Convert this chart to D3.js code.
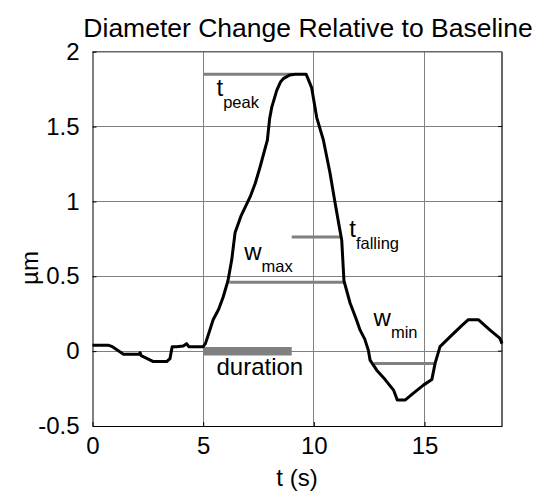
<!DOCTYPE html>
<html><head><meta charset="utf-8">
<script src="https://cdn.jsdelivr.net/npm/d3@7"></script>
<style>
body{margin:0;background:#fff;}
text{font-family:"Liberation Sans",Arial,sans-serif;fill:#000;}
</style></head>
<body>
<svg id="chart" width="538" height="495"></svg>
<script>
const tValues = [0,0.7,0.9,1.4,2.1,2.15,2.2,2.75,3.35,3.5,3.6,3.8,4.1,4.25,4.35,4.6,5.0,5.1,5.2,5.45,5.7,5.9,6.12,6.29,6.44,6.7,7.12,7.35,7.57,7.9,8.0,8.1,8.32,8.5,8.62,8.92,9.15,9.65,9.9,10.13,10.43,10.73,10.96,11.15,11.26,11.36,11.64,11.9,12.09,12.3,12.46,12.54,12.84,13.22,13.6,13.77,14.12,14.5,14.95,15.33,15.48,15.7,16.15,16.68,16.98,17.43,17.96,18.41,18.5];
const diameterValues = [0.04,0.04,0.03,-0.02,-0.02,-0.01,-0.03,-0.07,-0.07,-0.05,0.03,0.03,0.035,0.05,0.03,0.03,0.03,0.05,0.095,0.21,0.28,0.36,0.47,0.61,0.79,0.9,1.03,1.12,1.23,1.41,1.55,1.63,1.74,1.8,1.82,1.845,1.85,1.85,1.76,1.56,1.41,1.19,0.99,0.83,0.74,0.47,0.32,0.22,0.14,0.08,0.007,-0.06,-0.127,-0.19,-0.26,-0.327,-0.327,-0.28,-0.227,-0.19,-0.08,0.03,0.095,0.17,0.21,0.21,0.14,0.085,0.05];
const xTicks = [0,5,10,15];
const yTicks = [-0.5,0,0.5,1,1.5,2];
const yTickLabels = ["-0.5","0","0.5","1","1.5","2"];
// annotation segments
const segNames = ["tpeak","tfalling","wmax","duration","wmin"];
const segStart = [5.0, 9.0, 6.18, 5.0, 12.72];
const segEnd   = [9.05, 11.18, 11.36, 9.0, 15.5];
const segLevel = [1.85, 0.762, 0.46, 0.0, -0.082];
// annotation labels: main letter, subscript, anchor (t, value)
const labelMain = ["t","t","w","w","duration"];
const labelSub  = ["peak","falling","max","min",""];
const labelT    = [5.6, 11.6, 6.85, 12.7, 5.6];
const labelY    = [1.705, 0.765, 0.61, 0.165, -0.16];

const svg = d3.select("#chart");
const L=92.5, R=502, T=51.7, B=426;
const x = d3.scaleLinear().domain([0,18.5]).range([L,R]);
const y = d3.scaleLinear().domain([-0.5,2]).range([B,T]);
const grey = "#808080";
const FS = 24;

// grid
svg.append("g").selectAll("line").data(xTicks.filter(d=>d>0)).join("line")
  .attr("x1",d=>x(d)).attr("x2",d=>x(d)).attr("y1",T).attr("y2",B)
  .attr("stroke",grey).attr("stroke-width",1).attr("shape-rendering","crispEdges");
svg.append("g").selectAll("line").data(yTicks.filter(d=>d>-0.5 && d<2)).join("line")
  .attr("x1",L).attr("x2",R).attr("y1",d=>y(d)).attr("y2",d=>y(d))
  .attr("stroke",grey).attr("stroke-width",1).attr("shape-rendering","crispEdges");

// top/right border
svg.append("line").attr("x1",L).attr("x2",R).attr("y1",T).attr("y2",T).attr("stroke","#666").attr("stroke-width",1.5);
svg.append("line").attr("x1",R).attr("x2",R).attr("y1",T).attr("y2",B).attr("stroke","#666").attr("stroke-width",2);

// axes
const xAxis = d3.axisBottom(x).tickValues(xTicks).tickSizeInner(-4).tickSizeOuter(0).tickPadding(11).tickFormat(d3.format("d"));
const gx = svg.append("g").attr("transform",`translate(0,${B})`).call(xAxis);
gx.select(".domain").attr("stroke","#000").attr("stroke-width",1);
gx.selectAll("text").attr("font-size",FS).attr("font-family","Liberation Sans, Arial, sans-serif");
const yAxis = d3.axisLeft(y).tickValues(yTicks).tickSizeInner(-4).tickSizeOuter(0).tickPadding(13).tickFormat((d,i)=>yTickLabels[i]);
const gy = svg.append("g").attr("transform",`translate(${L},0)`).call(yAxis);
gy.select(".domain").attr("stroke","#000").attr("stroke-width",1);
gy.selectAll("text").attr("font-size",FS).attr("font-family","Liberation Sans, Arial, sans-serif");
gy.selectAll(".tick line, .domain").attr("stroke","#000");
// right ticks
svg.append("g").selectAll("line").data(yTicks.slice(1,5)).join("line")
  .attr("x1",R-4).attr("x2",R).attr("y1",d=>y(d)).attr("y2",d=>y(d)).attr("stroke","#000");

// annotation segments
const segs = segNames.map((n,i)=>({n, a:segStart[i], b:segEnd[i], v:segLevel[i]}));
svg.append("g").selectAll("line").data(segs).join("line")
  .attr("x1",d=>x(d.a)).attr("x2",d=>x(d.b)).attr("y1",d=>y(d.v)).attr("y2",d=>y(d.v))
  .attr("stroke",grey).attr("stroke-width",d=>d.n==="duration"?8.5:3);

// curve
const pts = tValues.map((t,i)=>[t,diameterValues[i]]);
svg.append("path").datum(pts)
  .attr("d",d3.line().x(d=>x(d[0])).y(d=>y(d[1])))
  .attr("fill","none").attr("stroke","#000").attr("stroke-width",3).attr("stroke-linejoin","round");

// labels
labelMain.forEach((m,i)=>{
  const tx = svg.append("text").attr("x",x(labelT[i])).attr("y",y(labelY[i])).attr("font-size",FS);
  tx.append("tspan").text(m);
  if(labelSub[i]) tx.append("tspan").attr("dy",12).attr("font-size",16.5).text(labelSub[i]);
});

// title & axis labels
svg.append("text").attr("x",308).attr("y",37).attr("text-anchor","middle").attr("font-size",26.5)
  .text("Diameter Change Relative to Baseline");
svg.append("text").attr("x",297).attr("y",486).attr("text-anchor","middle").attr("font-size",FS).text("t (s)");
svg.append("text").attr("transform","translate(38,268) rotate(-90)").attr("text-anchor","middle").attr("font-size",FS).text("µm");
</script>
</body></html>
